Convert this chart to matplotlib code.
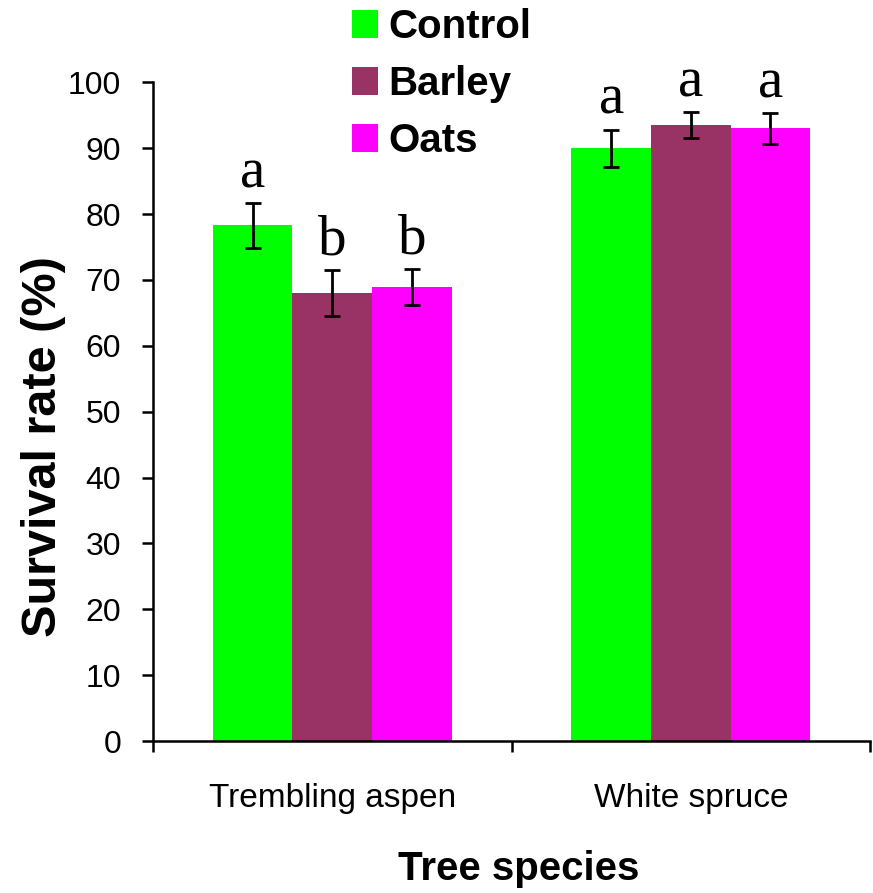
import matplotlib
matplotlib.use('Agg')
import matplotlib.pyplot as plt
import numpy as np

plt.rcParams['font.family'] = ['Liberation Sans', 'DejaVu Sans']

species = ['Trembling aspen', 'White spruce']
treatments = ['Control', 'Barley', 'Oats']
colors = ['#00ff00', '#993366', '#ff00ff']

# survival rate (%) per treatment, one value per species
survival = {
    'Control': [78.3, 90.0],
    'Barley': [68.0, 93.5],
    'Oats': [68.9, 93.0],
}
errors = {
    'Control': [3.4, 2.8],
    'Barley': [3.5, 2.0],
    'Oats': [2.7, 2.3],
}
letters = {
    'Control': ['a', 'a'],
    'Barley': ['b', 'a'],
    'Oats': ['b', 'a'],
}


def main():
    fig = plt.figure(figsize=(8.73, 8.93), dpi=100)
    ax = fig.add_axes([0.1753, 0.1702, 0.8213, 0.7376])

    x = np.arange(len(species))
    width = 0.222
    handles = []
    for i, name in enumerate(treatments):
        pos = x + (i - 1) * width
        b = ax.bar(pos, survival[name], width, color=colors[i], label=name, zorder=2)
        handles.append(b)
        ax.errorbar(pos, survival[name], yerr=errors[name], fmt='none', ecolor='black',
                    elinewidth=2, capsize=6, capthick=2, zorder=3)
        for p, v, e, t in zip(pos, survival[name], errors[name], letters[name]):
            ax.text(p, v + e + 2.4, t, ha='center', va='baseline',
                    family='Liberation Serif', fontsize=41)

    ax.set_xlim(-0.5, 1.5)
    ax.set_ylim(0, 100)
    ax.set_yticks(np.arange(0, 101, 10))
    ax.tick_params(axis='y', labelsize=23, length=8, width=1.8, pad=15)

    ax.set_xticks([-0.5, 0.5, 1.5])
    ax.set_xticklabels([])
    ax.tick_params(axis='x', which='major', length=8, width=1.8, direction='out')
    ax.set_xticks(x, minor=True)
    ax.set_xticklabels(species, minor=True)
    ax.tick_params(axis='x', which='minor', length=0, labelsize=24, pad=30)

    for side in ['top', 'right']:
        ax.spines[side].set_visible(False)
    for side in ['left', 'bottom']:
        ax.spines[side].set_linewidth(1.8)

    fig.text(44 / 873, 1 - 447 / 893, 'Survival rate (%)', rotation=90, ha='center',
             va='center', fontsize=35, fontweight='bold')
    fig.text(519 / 873, 1 - 869 / 893, 'Tree species', ha='center', va='center',
             fontsize=29, fontweight='bold')

    fig.legend(handles=handles, labels=treatments, loc='upper left',
               bbox_to_anchor=(348 / 873, 1 - 4 / 893), frameon=False,
               prop={'size': 29, 'weight': 'bold'}, handlelength=0.65,
               handleheight=0.7, handletextpad=0.25, labelspacing=0.47,
               borderaxespad=0, borderpad=0.1)

    fig.savefig('out.png', dpi=100)


if __name__ == '__main__':
    main()
